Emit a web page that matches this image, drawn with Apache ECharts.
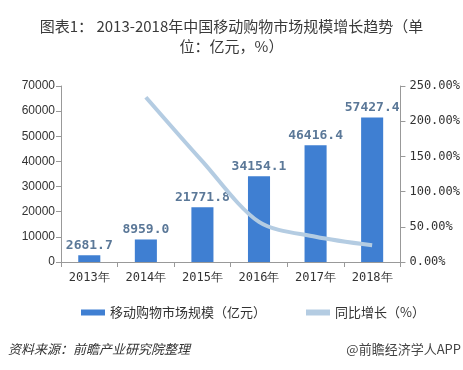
<!DOCTYPE html>
<html><head><meta charset="utf-8">
<script src="https://cdn.jsdelivr.net/npm/echarts@6/dist/echarts.min.js"></script>
<style>html,body{margin:0;padding:0;background:#fff}#c{width:463px;height:370px}</style>
</head><body><div id="c"></div>
<script>
const categories = ['2013年','2014年','2015年','2016年','2017年','2018年'];
const marketSize = [2681.7, 8959.0, 21771.8, 34154.1, 46416.4, 57427.4];
const growthRate = [null, 234.1, 143.0, 56.9, 35.9, 23.7];
const leftTicks = {min:0, max:70000, interval:10000};
const rightTicks = {min:0, max:250, interval:50};

const chart = echarts.init(document.getElementById('c'));
const axisCol = '#999';
chart.setOption({
  animation:false,
  backgroundColor:'#fff',
  title:{
    text:'图表1： 2013-2018年中国移动购物市场规模增长趋势（单\n位：亿元，%）',
    left:'center', top:11,
    textStyle:{fontFamily:'Noto Sans CJK SC', fontSize:15, fontWeight:'normal', color:'#3a3a3a', lineHeight:20}
  },
  graphic:[
    {type:'text', left:8, top:343, style:{text:'资料来源：前瞻产业研究院整理', font:'italic 13px "Noto Sans CJK SC"', fill:'#333'}},
    {type:'text', right:2, top:343, style:{text:'@前瞻经济学人APP', font:'13px "Noto Sans CJK SC"', fill:'#444'}}
  ],
  legend:{
    top:301, left:76, itemGap:40, itemWidth:24, itemHeight:6,
    textStyle:{fontFamily:'Noto Sans CJK SC', fontSize:13, color:'#333'},
    data:[{name:'移动购物市场规模（亿元）', icon:'rect'}, {name:'同比增长（%）', icon:'rect', itemStyle:{color:'#b4cce2'}}]
  },
  grid:{left:61, right:62, top:86, bottom:108},
  xAxis:{
    type:'category', data:categories,
    axisLine:{lineStyle:{color:axisCol}},
    axisTick:{show:true, lineStyle:{color:axisCol}},
    axisLabel:{color:'#333', fontSize:12, fontFamily:'DejaVu Sans Mono', margin:10}
  },
  yAxis:[
    {type:'value', min:leftTicks.min, max:leftTicks.max, interval:leftTicks.interval,
     axisLine:{show:true, lineStyle:{color:axisCol}}, axisTick:{show:true, lineStyle:{color:axisCol}},
     splitLine:{show:false},
     axisLabel:{color:'#333', fontSize:12, fontFamily:'Liberation Sans', margin:6, formatter:v=>String(v)}},
    {type:'value', min:rightTicks.min, max:rightTicks.max, interval:rightTicks.interval, position:'right',
     axisLine:{show:true, lineStyle:{color:axisCol}}, axisTick:{show:true, lineStyle:{color:axisCol}},
     splitLine:{show:false},
     axisLabel:{color:'#333', fontSize:12, fontFamily:'DejaVu Sans Mono', margin:9,
       formatter:v=>v.toFixed(2)+'%'}}
  ],
  series:[
    {name:'移动购物市场规模（亿元）', type:'bar', data:marketSize, barWidth:'39%',
     itemStyle:{color:'#3f7fd2'},
     label:{show:true, position:'top', distance:3, color:'#5b7898', fontWeight:'bold',
       fontFamily:'DejaVu Sans Mono', fontSize:13, formatter:p=>p.value.toFixed(1)}},
    {name:'同比增长（%）', type:'line', yAxisIndex:1, data:growthRate, smooth:0.3,
     showSymbol:false, symbol:'none', lineStyle:{color:'#b4cce2', width:4}, itemStyle:{color:'#b4cce2'}}
  ]
});
</script></body></html>
